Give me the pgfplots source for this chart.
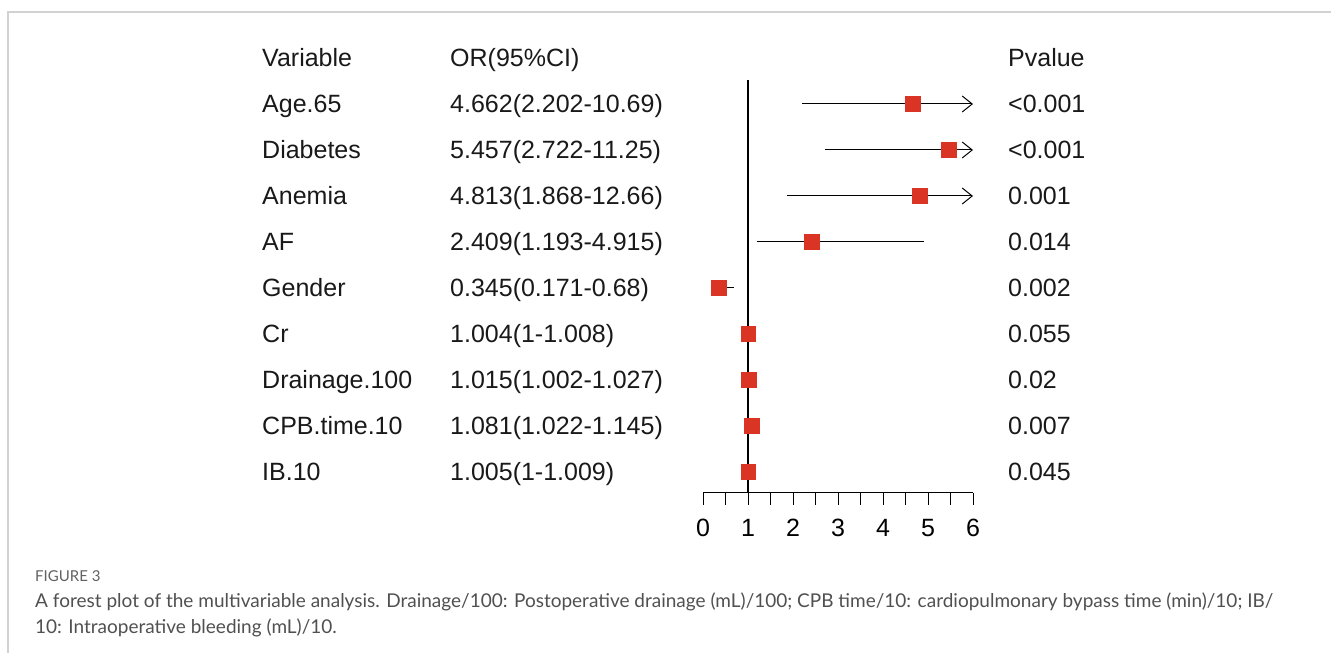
\documentclass[border=0pt]{standalone}
\usepackage{fontspec}
\setmainfont{Liberation Sans}
\newfontfamily\capfont{Lato}
\usepackage{pgfplots}
\pgfplotsset{compat=1.18}
\usepackage{pgfplotstable}
\usetikzlibrary{arrows.meta}
\definecolor{sqred}{RGB}{218,52,36}
\definecolor{capgray}{RGB}{80,80,80}
\definecolor{framegray}{RGB}{210,210,210}

% row: y = -row index
\pgfplotstableread{
y   or     lo     hi
-1  4.662  2.202  10.69
-2  5.457  2.722  11.25
-3  4.813  1.868  12.66
-4  2.409  1.193  4.915
-5  0.345  0.171  0.68
-6  1.004  1      1.008
-7  1.015  1.002  1.027
-8  1.081  1.022  1.145
-9  1.005  1      1.009
}\datatable

\begin{document}
\begin{tikzpicture}[x=1pt,y=1pt]
\useasboundingbox (0,0) rectangle (1331,653);
\draw[framegray, line width=1.2pt] (8,0) -- (8,641) -- (1331,641);

\begin{axis}[
  at={(703pt,160pt)}, anchor=south west,
  scale only axis, width=270pt, height=435pt,
  xmin=0, xmax=6, ymin=-9.457, ymax=0,
  clip=false,
  axis x line*=bottom, axis y line=none,
  axis line style={black, line width=1pt},
  xtick={0,1,2,3,4,5,6},
  minor xtick={0.5,1.5,2.5,3.5,4.5,5.5},
  tick align=outside,
  major tick length=12pt, minor tick length=12pt,
  tick style={black, line width=1pt},
  every tick label/.append style={font=\fontsize{25}{30}\selectfont},
  xticklabel style={anchor=base, yshift=-32pt},
  /pgf/number format/assume math mode=true,
  ytick=\empty,
]
\addplot[black, line width=1.1pt] coordinates {(1,-0.478) (1,-9.457)};
% confidence intervals
\addplot[black, line width=1pt, -{Straight Barb[length=10pt,width=16pt]}] coordinates {(2.202,-1) (6,-1)};
\addplot[black, line width=1pt, -{Straight Barb[length=10pt,width=16pt]}] coordinates {(2.722,-2) (6,-2)};
\addplot[black, line width=1pt, -{Straight Barb[length=10pt,width=16pt]}] coordinates {(1.868,-3) (6,-3)};
\addplot[black, line width=1pt] coordinates {(1.193,-4) (4.915,-4)};
\addplot[black, line width=1pt] coordinates {(0.171,-5) (0.68,-5)};
\addplot[black, line width=1pt] coordinates {(1,-6) (1.008,-6)};
\addplot[black, line width=1pt] coordinates {(1.002,-7) (1.027,-7)};
\addplot[black, line width=1pt] coordinates {(1.022,-8) (1.145,-8)};
\addplot[black, line width=1pt] coordinates {(1,-9) (1.009,-9)};
\addplot[only marks, mark=square*, mark size=7.4pt, draw=sqred, fill=sqred]
  table[x=or, y=y] {\datatable};
\end{axis}

\begin{scope}[every node/.style={anchor=base west, inner sep=0pt, font=\fontsize{25}{30}\selectfont, text=black!90}]
\node at (262,586) {Variable};
\node at (450,586) {OR(95\%CI)};
\node at (1008,586) {Pvalue};
\foreach \r/\v/\o/\p in {
  1/Age.65/4.662(2.202-10.69)/<0.001,
  2/Diabetes/5.457(2.722-11.25)/<0.001,
  3/Anemia/4.813(1.868-12.66)/0.001,
  4/AF/2.409(1.193-4.915)/0.014,
  5/Gender/0.345(0.171-0.68)/0.002,
  6/Cr/1.004(1-1.008)/0.055,
  7/Drainage.100/1.015(1.002-1.027)/0.02,
  8/CPB.time.10/1.081(1.022-1.145)/0.007,
  9/IB.10/1.005(1-1.009)/0.045}{
  \node at (262,{586-46*\r}) {\v};
  \node at (450,{586-46*\r}) {\o};
  \node at (1008,{586-46*\r}) {\p};
}
\end{scope}

\node[anchor=base west, inner sep=0pt, font=\capfont\fontsize{15}{18}\selectfont, text=capgray!90] at (35,71) {FIGURE 3};
\node[anchor=base west, inner sep=0pt, font=\capfont\fontsize{19}{22}\selectfont, text=capgray] at (35,45) {A forest plot of the multivariable analysis. Drainage/100: Postoperative drainage (mL)/100; CPB time/10: cardiopulmonary bypass time (min)/10; IB/};
\node[anchor=base west, inner sep=0pt, font=\capfont\fontsize{19}{22}\selectfont, text=capgray] at (35,19) {10: Intraoperative bleeding (mL)/10.};
\end{tikzpicture}
\end{document}
